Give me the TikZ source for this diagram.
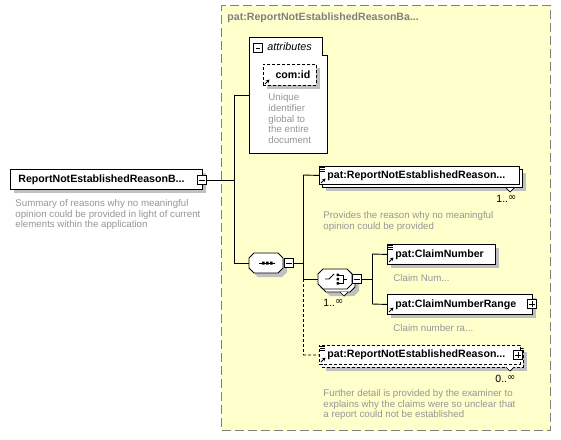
\documentclass[tikz,border=0pt]{standalone}
\usepackage{fontspec}
\setmainfont{Liberation Sans}
\newfontfamily\symfont{DejaVu Sans}
\usetikzlibrary{arrows.meta,shadows}
\definecolor{bgyellow}{RGB}{255,255,204}
\definecolor{bordergray}{RGB}{128,128,128}
\definecolor{descgray}{RGB}{150,150,150}
\definecolor{shadowgray}{RGB}{192,192,192}
\newcommand{\infsym}{\raisebox{1.8pt}{\symfont\fontsize{10}{10}\selectfont ∞}}
\tikzset{
  every path/.style={line width=0.9pt},
  shad/.style={drop shadow={shadow xshift=4pt, shadow yshift=-4pt, fill=shadowgray, opacity=1}},
  elem/.style={draw=black, fill=white, anchor=north west, inner xsep=8pt, inner ysep=0pt,
    font=\fontsize{10.6}{12}\selectfont\bfseries, align=left},
  optdash/.style={dash pattern=on 3pt off 2pt},
  desc/.style={anchor=north west, inner sep=0pt, align=left, text=descgray,
    font=\fontsize{9.7}{10.6}\selectfont},
  mult/.style={anchor=west, inner sep=0pt, font=\fontsize{10.5}{12}\selectfont},
  pmbox/.style={draw=black, fill=white, minimum size=9.5pt, inner sep=0pt},
  minusbox/.style={pmbox, path picture={\draw[line width=0.8pt] ([xshift=2pt]path picture bounding box.west) -- ([xshift=-2pt]path picture bounding box.east);}},
  plusbox/.style={pmbox, path picture={\draw[line width=0.8pt] ([xshift=2pt]path picture bounding box.west) -- ([xshift=-2pt]path picture bounding box.east) ([yshift=-2pt]path picture bounding box.north) -- ([yshift=2pt]path picture bounding box.south);}},
  eqicon/.pic={\draw[line width=0.6pt] (0,0)--(5,0) (0,2)--(5,2) (0,4)--(5,4);},
  arricon/.pic={\draw[line width=1pt, -{Stealth[length=3.5pt,width=3.5pt]}] (0,0) -- (4.5,-4.5);},
  octa/.pic={\path[pic actions] (-12,-10)--(12,-10)--(17,-5)--(17,5)--(12,10)--(-12,10)--(-17,5)--(-17,-5)--cycle;}
}
\begin{document}
\begin{tikzpicture}[x=1pt,y=-1pt]
\useasboundingbox (0,0) rectangle (561,439);
\fill[white] (0,0) rectangle (561,439);

% group box
\node[draw=bordergray, line width=1.3pt, dash pattern=on 9pt off 4pt, fill=bgyellow,
  minimum width=329pt, minimum height=425pt, anchor=north west, inner sep=0pt] (grp) at (221,5) {};
\node[anchor=west, inner sep=0pt, text=bordergray, font=\fontsize{10.6}{12}\selectfont\bfseries] (grptitle) at (227,18) {pat:ReportNotEstablishedReasonBa...};

% attributes box
\draw[fill=white] (249,37) -- (322,37) -- (322,55) -- (327,55) -- (327,153) -- (249,153) -- cycle;
\coordinate (attrW) at (249,95);
\node[minusbox, minimum size=8.5pt] (attrpm) at (258,48) {};
\node[anchor=west, inner sep=0pt, font=\fontsize{10.8}{12}\selectfont\itshape] (attrlbl) at (267,47) {attributes};
\fill[shadowgray] (267,68) rectangle (320,89);
\node[elem, optdash, minimum width=53pt, minimum height=21pt, inner xsep=0pt, align=center] (comid) at (263,64) {\hspace*{6pt}com:id};
\pic at (265,84) {arricon};
\node[desc, font=\fontsize{9.7}{10.8}\selectfont] (attrdesc) at (268,93) {Unique\\identifier\\global to\\the entire\\document};

% main element
\node[elem, shad, text width=176pt, minimum height=20pt] (main) at (10,169) {\mbox{ReportNotEstablishedReasonB...}};
\node[minusbox] (mainpm) at (202,180) {};
\node[desc] (maindesc) at (15,199) {Summary of reasons why no meaningful\\opinion could be provided in light of current\\elements within the application};

% sequence
\node[minimum width=34pt, minimum height=20pt, inner sep=0pt] (seq) at (266,263) {};
\pic[fill=shadowgray, draw=none] at (270,267) {octa};
\pic[fill=white, draw=black] at (266,263) {octa};
\draw[line width=0.8pt] (259,263) -- (275,263);
\fill (262,261.5) rectangle (264.5,264.5) (266,261.5) rectangle (268.5,264.5) (270,261.5) rectangle (272.5,264.5);
\node[minusbox] (seqpm) at (289,263) {};

% connectors from main
\coordinate (jMain) at (234,180);
\coordinate (jAttr) at (234,95);
\coordinate (jSeq) at (234,263);
\draw (mainpm.east) -- (jMain);
\draw (jAttr) -- (jSeq);
\draw (jAttr) -- (attrW);
\draw (jSeq) -- (seq.west);

% sequence branches
\coordinate (sOut) at (303,263);
\coordinate (sTop) at (303,175);
\coordinate (sCh) at (303,279);
\coordinate (sBot) at (303,355);
\draw (seqpm.east) -- (sOut);
\draw (sTop) -- (sCh);
\draw[optdash] (sCh) -- (sBot);

% child 1
\node[elem, shad, minimum width=200pt, minimum height=18pt, inner sep=0pt] (c1back) at (322,169) {};
\draw[fill=white, line width=0.7pt] (506,188) -- (510,192) -- (514,188);
\node[elem, text width=184pt, minimum height=18pt] (c1) at (319,166) {\mbox{pat:ReportNotEstablishedReason...}};
\pic at (320,167) {eqicon};
\pic at (321,183) {arricon};
\draw (sTop) -- (c1.west);
\node[mult] (c1mult) at (496,199) {1..\infsym};
\node[desc] (c1desc) at (323,211) {Provides the reason why no meaningful\\opinion could be provided};

% choice
\node[minimum width=34pt, minimum height=20pt, inner sep=0pt] (ch) at (335,279) {};
\pic[fill=shadowgray, draw=none] at (342,286) {octa};
\pic[fill=white, draw=black] at (338,282) {octa};
\draw[fill=white, line width=0.7pt] (340,292) -- (344,296) -- (348,292);
\pic[fill=white, draw=black] at (335,279) {octa};
\draw[line width=0.8pt] (325,279) -- (329,279) -- (334,274);
\fill (336.5,273.5) rectangle (339,276) (336.5,277.8) rectangle (339,280.3) (336.5,282) rectangle (339,284.5);
\draw[line width=0.8pt] (339,275) -- (343,275) -- (343,283) -- (339,283) (343,279) -- (347,279);
\node[minusbox] (chpm) at (357,279) {};
\draw (sCh) -- (ch.west);
\node[mult] (chmult) at (323,303) {1..\infsym};

\coordinate (cOut) at (372,279);
\coordinate (cTop) at (372,254);
\coordinate (cBot) at (372,304);
\draw (chpm.east) -- (cOut);
\draw (cTop) -- (cBot);

% ClaimNumber
\node[elem, shad, text width=92pt, minimum height=20pt] (cn) at (387,244) {pat:ClaimNumber};
\pic at (388,245) {eqicon};
\pic at (389,262) {arricon};
\draw (cTop) -- (cn.west);
\node[desc] (cndesc) at (393,274) {Claim Num...};

% ClaimNumberRange
\node[elem, shad, text width=129pt, minimum height=20pt] (cr) at (387,294) {pat:ClaimNumberRange};
\pic at (389,312) {arricon};
\node[plusbox] (crpm) at (532,304) {};
\draw (cBot) -- (cr.west);
\node[desc] (crdesc) at (393,324) {Claim number ra...};

% child 3 (optional)
\node[elem, shad, optdash, minimum width=201pt, minimum height=19pt, inner sep=0pt] (c3back) at (322,348) {};
\draw[fill=white, line width=0.7pt] (506,367) -- (510,371) -- (514,367);
\node[elem, optdash, text width=185pt, minimum height=19pt] (c3) at (319,345) {\mbox{pat:ReportNotEstablishedReason...}};
\pic at (320,346) {eqicon};
\pic at (321,362) {arricon};
\node[plusbox] (c3pm) at (518,355) {};
\draw[optdash] (sBot) -- (c3.west);
\node[mult] (c3mult) at (495,379) {0..\infsym};
\node[desc] (c3desc) at (323,389) {Further detail is provided by the examiner to\\explains why the claims were so unclear that\\a report could not be established};
\end{tikzpicture}
\end{document}
